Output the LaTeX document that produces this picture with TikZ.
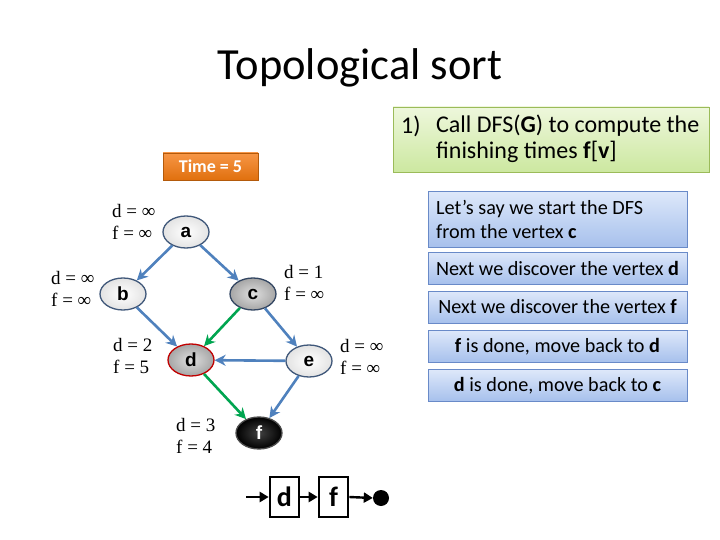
\documentclass[tikz,border=0pt]{standalone}
\usepackage{fontspec}
\setmainfont{Carlito}
\newfontfamily\lblfont{Liberation Serif}
\newfontfamily\nodefont{Liberation Sans}
\usetikzlibrary{arrows.meta,shapes.geometric}
\definecolor{edgeblue}{HTML}{4F81BD}
\definecolor{edgegreen}{HTML}{00A550}
\definecolor{rimblue}{HTML}{40587A}
\definecolor{redrim}{HTML}{C00000}
\definecolor{grnborder}{HTML}{9BBB59}
\definecolor{grntop}{RGB}{238,247,220}
\definecolor{grnbot}{RGB}{204,232,160}
\definecolor{blutop}{RGB}{222,232,250}
\definecolor{blubot}{RGB}{166,192,236}
\definecolor{bluborder}{RGB}{105,138,200}
\definecolor{orgtop}{HTML}{F79646}
\definecolor{orgbot}{HTML}{E0700E}
\begin{document}
\begin{tikzpicture}[x=1pt,y=-1pt,
  vert/.style={ellipse, minimum width=46pt, minimum height=32pt, inner sep=0pt,
    font=\nodefont\bfseries\fontsize{19}{21}\selectfont, line width=1.3pt},
  whitev/.style={vert, draw=rimblue, inner color=white, outer color=gray!22},
  grayv/.style={vert, draw=rimblue!80!black, inner color=gray!25, outer color=gray!70},
  redv/.style={vert, draw=redrim, inner color=gray!25, outer color=gray!70},
  blackv/.style={vert, draw=gray!60!black, inner color=black!75, outer color=black, text=white},
  lbl/.style={font=\lblfont\fontsize{19}{22}\selectfont, align=left, anchor=west, inner sep=0pt},
  bedge/.style={draw=edgeblue, line width=2.6pt, -{Stealth[length=11pt,width=11pt]}},
  gedge/.style={draw=edgegreen, line width=2.6pt, -{Stealth[length=11pt,width=11pt]}},
  stepbox/.style={draw=bluborder, line width=0.8pt, top color=blutop, bottom color=blubot,
    minimum width=259pt, inner sep=0pt, font=\fontsize{20.2}{23.5}\selectfont},
  steptext/.style={font=\fontsize{20.2}{23.5}\selectfont, align=left, anchor=west, inner sep=0pt},
  chainbox/.style={draw=black, line width=2.6pt, minimum width=29pt, minimum height=40pt,
    inner sep=0pt, font=\bfseries\fontsize{28}{30}\selectfont},
  chainarrow/.style={draw=black, line width=2.4pt, -{Triangle[length=9pt,width=10pt]}}
]
\useasboundingbox (0,0) rectangle (720,540);

% title
\node[font=\fontsize{44.5}{48}\selectfont] (title) at (360,68) {Topological sort};

% green box
\node[draw=grnborder, line width=0.8pt, top color=grntop, bottom color=grnbot,
  minimum width=316pt, minimum height=65pt, inner sep=0pt] (goal) at (551,139.5) {};
\node[font=\fontsize{24}{26}\selectfont, anchor=west, inner sep=0pt] (num) at (401,126) {1)};
\node[font=\fontsize{24}{26}\selectfont, anchor=west, align=left, inner sep=0pt] (goaltxt)
  at (436,139) {Call DFS(\textbf{G}) to compute the\\finishing times \textbf{f}[\textbf{v}]};

% time box
\node[draw=orgbot!80!black, line width=0.5pt, top color=orgtop, bottom color=orgbot,
  minimum width=95pt, minimum height=27pt, inner sep=0pt, text=white,
  font=\bfseries\fontsize{18}{20}\selectfont] (time) at (210.5,166.5) {Time = 5};

% step boxes
\node[stepbox, minimum height=56pt] (s1) at (557.5,219.5) {};
\node[steptext] (s1t) at (436,219.5) {Let’s say we start the DFS\\from the vertex \textbf{c}};
\node[stepbox, minimum height=32pt] (s2) at (557.5,268) {Next we discover the vertex \textbf{d}};
\node[stepbox, minimum height=32pt] (s3) at (557.5,307) {Next we discover the vertex \textbf{f}};
\node[stepbox, minimum height=32pt] (s4) at (557.5,346.5) {\textbf{f} is done, move back to \textbf{d}};
\node[stepbox, minimum height=32pt] (s5) at (557.5,385.5) {\textbf{d} is done, move back to \textbf{c}};

% vertices
\node[whitev] (a) at (186,232) {a};
\node[whitev] (b) at (123,294) {b};
\node[grayv]  (c) at (253,294) {c};
\node[redv]   (d) at (191,360) {d};
\node[whitev] (e) at (309,361) {e};
\node[blackv] (f) at (259,433) {f};

% labels
\node[lbl] (la) at (112,222) {d = ∞\\f = ∞};
\node[lbl] (lb) at (51,289) {d = ∞\\f = ∞};
\node[lbl] (lc) at (284,283) {d = 1\\f = ∞};
\node[lbl] (ld) at (113,356) {d = 2\\f = 5};
\node[lbl] (le) at (340,357) {d = ∞\\f = ∞};
\node[lbl] (lf) at (176,436) {d = 3\\f = 4};

% edges
\draw[bedge] (a) -- (b);
\draw[bedge] (a) -- (c);
\draw[bedge] (b) -- (d);
\draw[gedge] (c) -- (d);
\draw[bedge] (c) -- (e);
\draw[bedge] (e) -- (d);
\draw[gedge] (d) -- (f);
\draw[bedge] (e) -- (f);

% chain
\coordinate (cstart) at (246,497);
\node[chainbox] (cd) at (284.5,497) {d};
\node[chainbox] (cf) at (333.5,497) {f};
\node[circle, fill=black, minimum size=16pt, inner sep=0pt] (dot) at (381,498) {};
\draw[chainarrow] (cstart) -- (cd.west);
\draw[chainarrow] (cd.east) -- (cf.west);
\draw[chainarrow] (cf.east) -- (dot.west);
\end{tikzpicture}
\end{document}
